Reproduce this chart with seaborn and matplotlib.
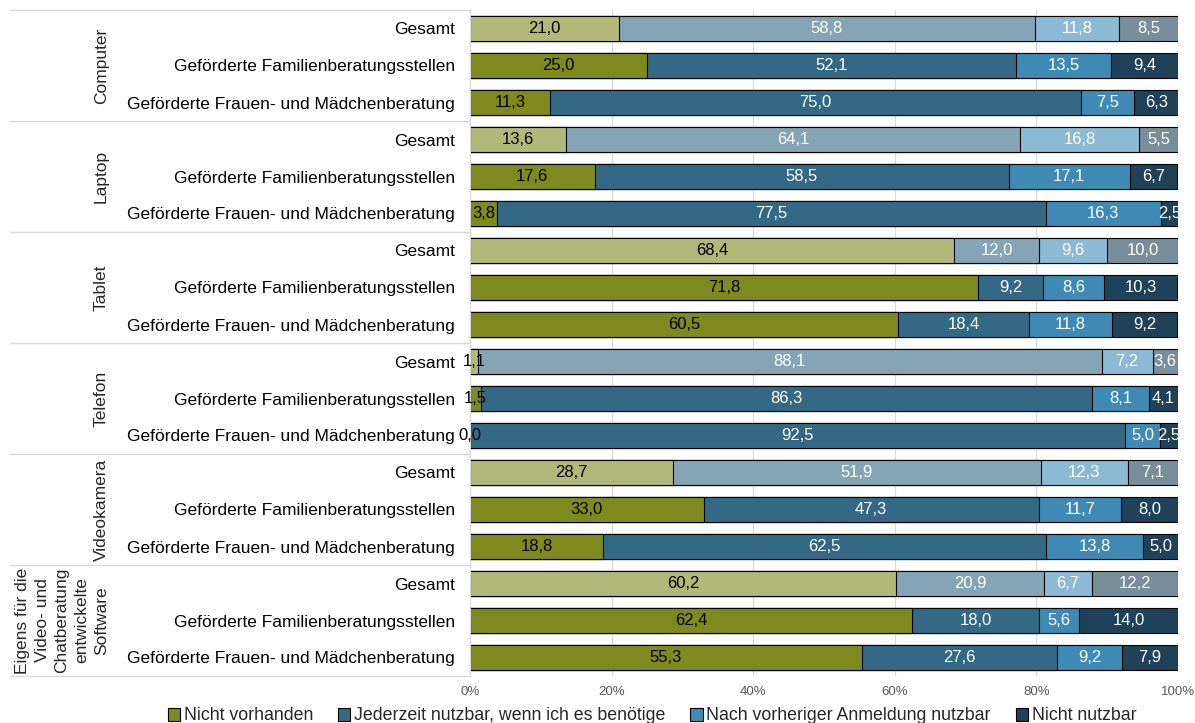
import matplotlib
matplotlib.use("Agg")
import matplotlib.pyplot as plt
import seaborn as sns
import pandas as pd
from matplotlib.patches import Patch
from matplotlib.colors import to_rgb

devices = ["Computer", "Laptop", "Tablet", "Telefon", "Videokamera",
           "Eigens für die\nVideo- und\nChatberatung\nentwickelte\nSoftware"]
groups = ["Gesamt", "Geförderte Familienberatungsstellen",
          "Geförderte Frauen- und Mädchenberatung"]
categories = ["Nicht vorhanden", "Jederzeit nutzbar, wenn ich es benötige",
              "Nach vorheriger Anmeldung nutzbar", "Nicht nutzbar"]

# one value per row: device x group (Gesamt, Familien, Frauen/Mädchen)
nicht_vorhanden = [21.0, 25.0, 11.3, 13.6, 17.6, 3.8, 68.4, 71.8, 60.5,
                   1.1, 1.5, 0.0, 28.7, 33.0, 18.8, 60.2, 62.4, 55.3]
jederzeit = [58.8, 52.1, 75.0, 64.1, 58.5, 77.5, 12.0, 9.2, 18.4,
             88.1, 86.3, 92.5, 51.9, 47.3, 62.5, 20.9, 18.0, 27.6]
anmeldung = [11.8, 13.5, 7.5, 16.8, 17.1, 16.3, 9.6, 8.6, 11.8,
             7.2, 8.1, 5.0, 12.3, 11.7, 13.8, 6.7, 5.6, 9.2]
nicht_nutzbar = [8.5, 9.4, 6.3, 5.5, 6.7, 2.5, 10.0, 10.3, 9.2,
                 3.6, 4.1, 2.5, 7.1, 8.0, 5.0, 12.2, 14.0, 7.9]
xticks = [0, 20, 40, 60, 80, 100]

series = [nicht_vorhanden, jederzeit, anmeldung, nicht_nutzbar]
base_colors = ["#7F8A1E", "#336985", "#3F8AB5", "#1F4259"]


def lighten(c, alpha=0.6):
    r, g, b = to_rgb(c)
    return (alpha * r + 1 - alpha, alpha * g + 1 - alpha, alpha * b + 1 - alpha)


light_colors = [lighten(c) for c in base_colors]

row_ids = [f"{d}|{g}" for d in devices for g in groups]
row_labels = [g for d in devices for g in groups]
n = len(row_ids)

sns.set_theme(style="white")
plt.rcParams["font.family"] = ["Liberation Sans", "DejaVu Sans"]

fig = plt.figure(figsize=(11.95, 7.23), dpi=100)
ax = fig.add_axes([470 / 1195, 1 - 676 / 723, 708 / 1195, 666 / 723])

# stacked bars: draw cumulative totals from the widest layer down
for k in reversed(range(4)):
    cum = [sum(series[j][i] for j in range(k + 1)) for i in range(n)]
    df = pd.DataFrame({"row": row_ids, "value": cum})
    pal = {rid: (light_colors[k] if rid.endswith("|Gesamt") else base_colors[k])
           for rid in row_ids}
    sns.barplot(data=df, x="value", y="row", hue="row", palette=pal,
                order=row_ids, hue_order=row_ids, dodge=False, legend=False,
                width=0.7, edgecolor="black", linewidth=0.8, errorbar=None,
                saturation=1, ax=ax, zorder=2)

# value labels
for i in range(n):
    left = 0.0
    for k in range(4):
        v = series[k][i]
        ax.text(left + v / 2, i, f"{v:.1f}".replace(".", ","), ha="center",
                va="center", fontsize=12,
                color="black" if k == 0 else "white", zorder=5)
        left += v

ax.set_xlim(0, 100)
ax.set_ylim(n - 0.5, -0.5)
ax.set_xticks(xticks)
ax.set_xticklabels([f"{t}%" for t in xticks], fontsize=9.5, color="#595959")
ax.set_yticks(range(n))
ax.set_yticklabels(row_labels, fontsize=12.5, color="black")
ax.tick_params(axis="y", length=0, pad=11)
ax.tick_params(axis="x", length=0, pad=7)
ax.set_xlabel("")
ax.set_ylabel("")
ax.xaxis.grid(True, color="#D9D9D9", linewidth=0.8, zorder=0)
ax.set_axisbelow(True)
for s in ["top", "right", "bottom"]:
    ax.spines[s].set_visible(False)
ax.spines["left"].set_color("#D9D9D9")
ax.spines["left"].set_linewidth(0.8)

# group separators and device labels on the left
ytr = ax.get_yaxis_transform()
x_start = (10 - 470) / 708
for b in range(len(devices) + 1):
    yb = b * 3 - 0.5
    ax.plot([x_start, 0], [yb, yb], transform=ytr, color="#D9D9D9",
            linewidth=1.0, clip_on=False)
for gi, d in enumerate(devices):
    ax.text((109 - 470) / 708, gi * 3 + 1, d, transform=ytr, rotation=90,
            ha="right", va="center", multialignment="center", fontsize=12.5,
            linespacing=1.4)

handles = [Patch(facecolor=c, edgecolor="black", linewidth=0.8)
           for c in base_colors]
fig.legend(handles, categories, loc="center",
           bbox_to_anchor=(652 / 1195, 1 - 716 / 723), ncol=4, frameon=False,
           fontsize=12.8, handlelength=0.7, handleheight=0.7,
           handletextpad=0.2, columnspacing=1.4, borderaxespad=0)

fig.savefig("out.png", dpi=100)
